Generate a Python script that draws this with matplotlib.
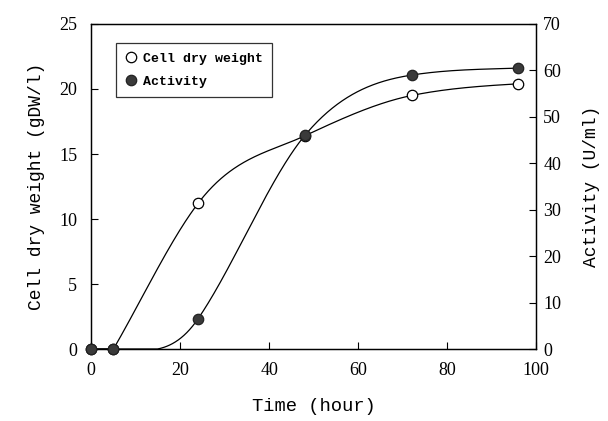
import numpy as np
import matplotlib
matplotlib.use("Agg")
import matplotlib.pyplot as plt

# data
time_h = [0, 5, 24, 48, 72, 96]
cell_dry_weight = [0, 0, 11.2, 16.4, 19.5, 20.4]   # gDW/l
activity = [0, 0, 6.5, 46, 59, 60.5]                # U/ml

# tangents of the hand-drawn curves at each point
cdw_slope = [0, 0.59, 0.45, 0.16, 0.07, 0.02]
activity_slope = [0, 0, 1.4, 1.15, 0.15, 0.03]


def hermite(x, y, m, xs):
    # cubic hermite curve through the points, kept at or above zero
    x = np.asarray(x, float)
    y = np.asarray(y, float)
    m = np.asarray(m, float)
    h = np.diff(x)
    idx = np.clip(np.searchsorted(x, xs) - 1, 0, len(x) - 2)
    t = (xs - x[idx]) / h[idx]
    h00 = 2 * t**3 - 3 * t**2 + 1
    h10 = t**3 - 2 * t**2 + t
    h01 = -2 * t**3 + 3 * t**2
    h11 = t**3 - t**2
    ys = (h00 * y[idx] + h10 * h[idx] * m[idx]
          + h01 * y[idx + 1] + h11 * h[idx] * m[idx + 1])
    return np.maximum(ys, 0)


xs = np.linspace(0, 96, 600)

mono = "Liberation Mono"
serif = "Liberation Serif"

fig = plt.figure(figsize=(6.08, 4.21), dpi=100)
ax = fig.add_axes([0.150, 0.171, 0.732, 0.772])
ax2 = ax.twinx()

ax.plot(xs, hermite(time_h, cell_dry_weight, cdw_slope, xs), color="black", lw=0.9)
ax.plot(time_h, cell_dry_weight, "o", ms=7.5, mfc="white", mec="black",
        mew=0.9, label="Cell dry weight", clip_on=False, zorder=5)
ax2.plot(xs, hermite(time_h, activity, activity_slope, xs), color="black", lw=0.9)
ax2.plot(time_h, activity, "o", ms=7.5, mfc="#3a3a3a", mec="#222222",
         mew=0.9, label="Activity", clip_on=False, zorder=5)

ax.set_xlim(0, 100)
ax.set_ylim(0, 25)
ax2.set_ylim(0, 70)
ax.set_xticks([0, 20, 40, 60, 80, 100])
ax.set_yticks([0, 5, 10, 15, 20, 25])
ax2.set_yticks([0, 10, 20, 30, 40, 50, 60, 70])

for a in (ax, ax2):
    a.tick_params(direction="in", length=5, width=0.8, labelsize=13)
    for lab in a.get_xticklabels() + a.get_yticklabels():
        lab.set_fontfamily(serif)
    for s in a.spines.values():
        s.set_linewidth(0.9)
ax.tick_params(axis="x", pad=9)
ax.tick_params(axis="y", pad=10)
ax2.tick_params(axis="y", pad=5)

ax.set_xlabel("Time (hour)", fontfamily=mono, fontsize=13.5, labelpad=14)
ax.set_ylabel("Cell dry weight (gDW/l)", fontfamily=mono, fontsize=13, labelpad=10)
ax2.set_ylabel("Activity (U/ml)", fontfamily=mono, fontsize=13, labelpad=16)

h1, l1 = ax.get_legend_handles_labels()
h2, l2 = ax2.get_legend_handles_labels()
leg = ax.legend(h1 + h2, l1 + l2, loc="upper left", bbox_to_anchor=(0.056, 0.94),
                prop={"family": mono, "size": 9.5, "weight": "bold"},
                frameon=True, fancybox=False, edgecolor="black",
                handletextpad=0.5, handlelength=0.8, borderpad=0.7,
                labelspacing=0.8, borderaxespad=0)
leg.get_frame().set_linewidth(0.9)
leg.set_zorder(10)

fig.savefig("out.png", dpi=100)
